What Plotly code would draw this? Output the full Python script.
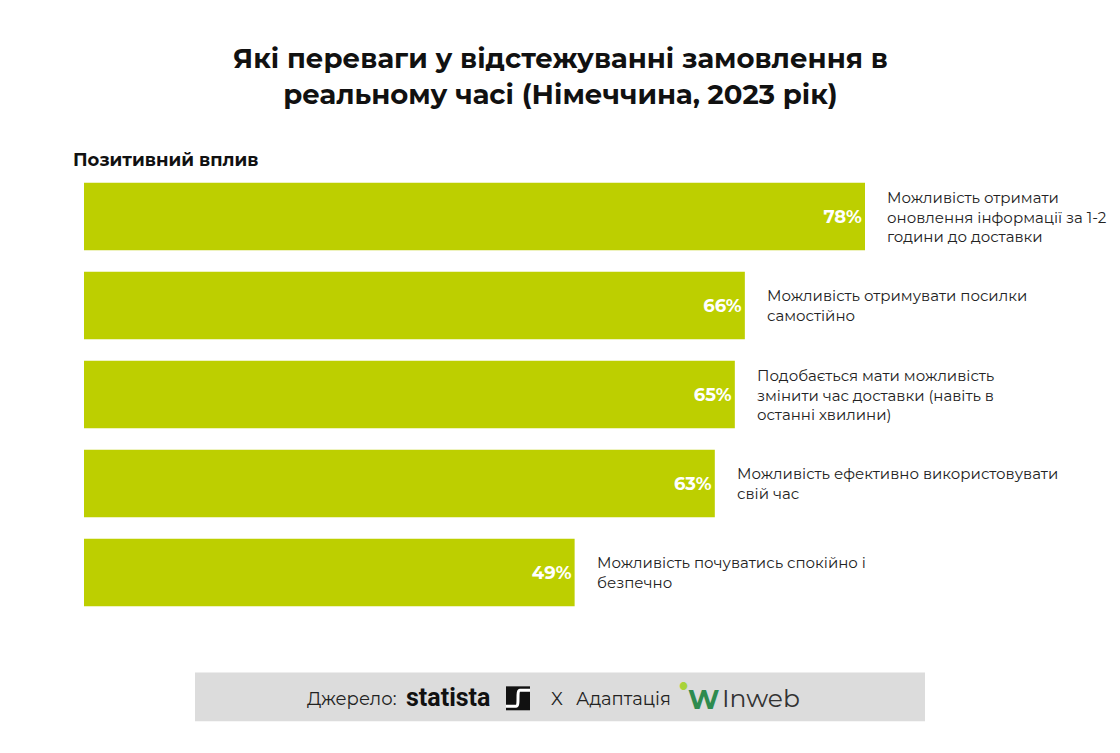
import plotly.graph_objects as go

categories = [
    "Можливість отримати<br>оновлення інформації за 1-2<br>години до доставки",
    "Можливість отримувати посилки<br>самостійно",
    "Подобається мати можливість<br>змінити час доставки (навіть в<br>останні хвилини)",
    "Можливість ефективно використовувати<br>свій час",
    "Можливість почуватись спокійно і<br>безпечно",
]
values = [78, 66, 65, 63, 49]
value_labels = [f"{v}%" for v in values]

title_text = "<b>Які переваги у відстежуванні замовлення в<br>реальному часі (Німеччина, 2023 рік)</b>"
subtitle_text = "<b>Позитивний вплив</b>"

FONT = "Montserrat, 'Open Sans', Inter, sans-serif"
BAR_COLOR = "#BDCF00"

ypos = list(range(len(categories)))

W, H = 1120, 753
ml, mr, mt, mb = 84, 0, 171.5, 135.5
pw = W - ml - mr
ph = H - mt - mb

def px2paper(x, y):
    return (x - ml) / pw, (H - mb - y) / ph

fig = go.Figure()
fig.add_trace(go.Bar(
    x=values,
    y=ypos,
    orientation="h",
    marker=dict(color=BAR_COLOR, line=dict(width=0)),
    text=value_labels,
    textposition="inside",
    insidetextanchor="end",
    textfont=dict(color="white", size=18, family=FONT, weight="bold"),
    cliponaxis=False,
    hoverinfo="skip",
))

for i, (c, v) in enumerate(zip(categories, values)):
    fig.add_annotation(
        x=v, y=i, xref="x", yref="y",
        text=c, showarrow=False,
        xanchor="left", yanchor="middle", align="left",
        xshift=20,
        font=dict(size=15, color="#222222", family=FONT),
    )

# Title
tx, ty = px2paper(560, 75)
fig.add_annotation(x=tx, y=ty, xref="paper", yref="paper", text=title_text,
                   showarrow=False, xanchor="center", yanchor="middle", align="center",
                   font=dict(size=27.5, color="#111111", family=FONT))
# Subtitle
sx, sy = px2paper(71, 159)
fig.add_annotation(x=sx, y=sy, xref="paper", yref="paper", text=subtitle_text,
                   showarrow=False, xanchor="left", yanchor="middle",
                   font=dict(size=18, color="#111111", family=FONT))

# Footer box
x0, y0 = px2paper(195, 722)
x1, y1 = px2paper(925, 673)
fig.add_shape(type="rect", xref="paper", yref="paper", x0=x0, x1=x1, y0=y0, y1=y1,
              fillcolor="#DCDCDC", line=dict(width=0), layer="below")

def foot(x, text, size, color, family=FONT, y=700):
    fx, fy = px2paper(x, y)
    fig.add_annotation(x=fx, y=fy, xref="paper", yref="paper", text=text,
                       showarrow=False, xanchor="left", yanchor="middle",
                       font=dict(size=size, color=color, family=family))

foot(305, "Джерело:", 18, "#222222")
foot(404, "<b>statista</b>", 25, "#111111", family="Roboto, sans-serif", y=698)
# statista logo square with white stripe
lx0, ly0 = px2paper(506, 711)
lx1, ly1 = px2paper(530, 687)
fig.add_shape(type="rect", xref="paper", yref="paper", x0=lx0, x1=lx1, y0=ly0, y1=ly1,
              fillcolor="#111111", line=dict(width=0))
a = px2paper(506, 707)
b = px2paper(516, 707)
c = px2paper(520, 691)
d = px2paper(530, 691)
fig.add_shape(type="path", xref="paper", yref="paper",
              path=f"M {a[0]},{a[1]} L {b[0]},{b[1]} C {c[0]},{b[1]} {b[0]},{c[1]} {c[0]},{c[1]} L {d[0]},{d[1]}",
              line=dict(color="white", width=3))
foot(549, "X", 18, "#222222")
foot(574, "Адаптація", 18, "#222222")
fx, fy = px2paper(683, 687)
fig.add_annotation(x=fx, y=fy, xref="paper", yref="paper", text="●", showarrow=False,
                   xanchor="center", yanchor="middle", font=dict(size=10, color="#A8D33A"))
foot(686, "<b>W</b>", 27, "#2E8B4E", y=700)
foot(720, "Inweb", 25, "#333333", y=699)

fig.update_layout(
    width=W, height=H,
    margin=dict(l=ml, r=mr, t=mt, b=mb, pad=0),
    paper_bgcolor="white", plot_bgcolor="white",
    showlegend=False,
    bargap=0.24,
    font=dict(family=FONT),
    xaxis=dict(range=[0, 78 * pw / 781], visible=False, fixedrange=True),
    yaxis=dict(range=[len(categories) - 0.5, -0.5], visible=False, fixedrange=True),
    uniformtext=dict(minsize=18, mode="show"),
)

fig.write_html("out.html", config={"displayModeBar": False},
               post_script="document.body.style.margin='0';document.body.style.overflow='hidden';")
